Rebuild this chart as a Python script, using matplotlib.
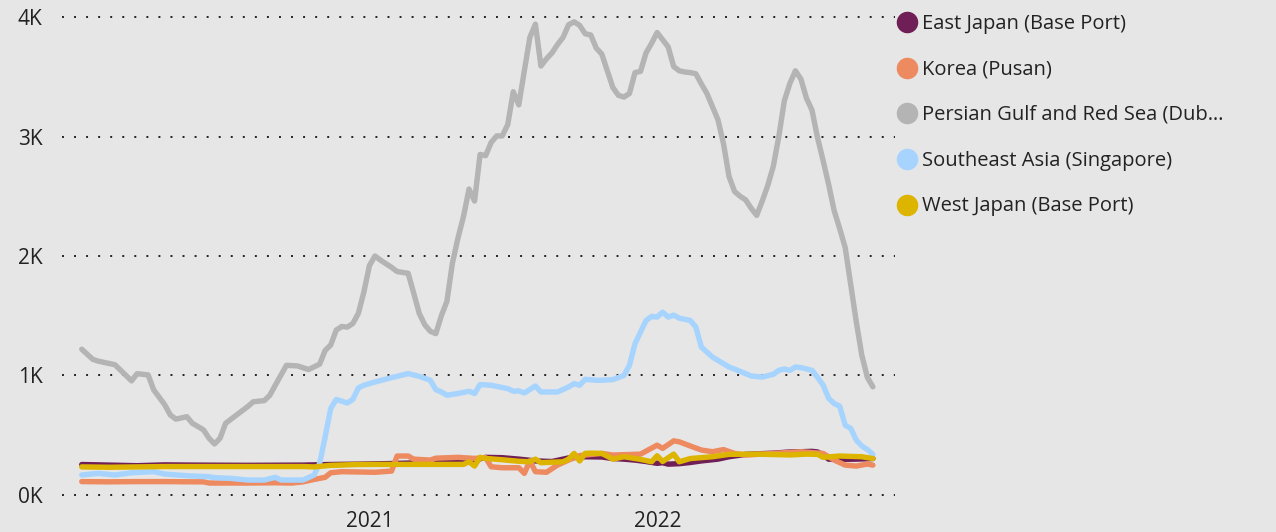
import numpy as np
import pandas as pd
import matplotlib
matplotlib.use("Agg")
import matplotlib.pyplot as plt
from matplotlib.lines import Line2D
from matplotlib.ticker import FuncFormatter

plt.rcParams['font.family'] = ['Open Sans', 'DejaVu Sans']

# weekly series, week number counted from 2020-01-03
start = pd.Timestamp('2020-01-03')

ej_wk = [0, 5, 10, 15, 20, 30, 40, 45, 50, 55, 60, 66, 71, 73, 76, 79, 82, 85, 88, 91,
         94, 96, 98, 100, 102, 104, 105, 106, 108, 110, 112, 115, 117, 120, 125, 128, 130, 132, 133, 134,
         135, 137, 140, 143]
ej_val = [255, 250, 245, 252, 250, 248, 250, 255, 258, 262, 268, 275, 290, 315, 312, 300, 285, 280, 310, 320,
          318, 305, 300, 292, 280, 265, 270, 258, 262, 272, 285, 300, 320, 340, 350, 360, 362, 365, 360, 335,
          300, 298, 300, 305]

ko_wk = [0, 5, 10, 15, 20, 22, 23, 30, 35, 38, 40, 42, 44, 45, 47, 53, 56, 57, 59, 60,
         63, 64, 68, 71, 73, 74, 76, 79, 80, 81, 82, 84, 86, 88, 90, 94, 96, 101, 104, 105,
         107, 108, 110, 112, 114, 116, 118, 120, 130, 134, 136, 138, 140, 142, 143]
ko_val = [112, 110, 112, 112, 110, 110, 100, 100, 102, 100, 110, 130, 148, 186, 195, 190, 200, 326, 326, 300,
          292, 308, 315, 306, 312, 236, 228, 228, 181, 286, 195, 190, 250, 292, 330, 348, 334, 342, 417, 390,
          453, 445, 410, 376, 362, 380, 348, 334, 362, 348, 292, 250, 242, 259, 250]

gulf_wk = [0, 2, 3, 6, 8, 9, 10, 12, 13, 15, 16, 17, 19, 20, 22, 23, 24, 25, 26, 28,
           30, 31, 33, 34, 35, 37, 39, 41, 43, 44, 45, 46, 47, 48, 49, 50, 51, 52, 53, 54,
           56, 57, 59, 60, 61, 62, 63, 64, 65, 66] + list(range(67, 144))
gulf_val = [1220, 1135, 1120, 1090, 1000, 955, 1015, 1005, 880, 755,
            670, 635, 655, 600, 545, 475, 427, 475, 600, 670,
            740, 780, 790, 835, 920, 1085, 1080, 1050, 1095, 1210,
            1255, 1380, 1410, 1405, 1435, 1520, 1700, 1920, 2000, 1965,
            1905, 1870, 1855, 1690, 1520, 1425, 1370, 1350, 1500, 1620,
            1940, 2150, 2330, 2560, 2460, 2850, 2840, 2950, 3005, 3005,
            3100, 3375, 3265, 3550, 3830, 3940, 3590, 3650, 3700, 3770,
            3830, 3935, 3960, 3930, 3860, 3850, 3740, 3690, 3550, 3410,
            3345, 3330, 3360, 3535, 3545, 3700, 3780, 3870, 3810, 3750,
            3585, 3550, 3540, 3535, 3525, 3440, 3360, 3250, 3140, 2940,
            2665, 2540, 2500, 2470, 2400, 2340, 2460, 2590, 2750, 3000,
            3300, 3445, 3550, 3480, 3320, 3220, 2990, 2800, 2600, 2380,
            2230, 2070, 1760, 1450, 1170, 985, 905]

sea_wk = [0, 3, 6, 9, 13, 15, 19, 23, 24, 27, 30, 33, 35, 36, 40, 42, 43, 44, 45, 46,
          48, 49, 50, 51, 53, 56, 57, 59, 61, 63, 64, 65, 66, 68, 70, 71, 72, 74, 77, 78,
          79, 80, 82, 83, 86, 88, 89, 90, 91, 93, 94, 96, 98, 99, 100, 102, 103, 104, 105, 106,
          107, 108, 110, 111, 112, 114, 116, 117, 119, 121, 123, 125, 126, 127, 128, 129, 130, 131, 132, 133,
          134, 135, 136, 137, 138, 139, 140, 141, 142, 143]
sea_val = [167, 181, 167, 186, 195, 175, 161, 153, 145, 139, 125, 125, 148, 125, 125, 167, 264, 487, 724, 799,
           770, 800, 896, 918, 946, 982, 993, 1016, 993, 960, 882, 862, 835, 849, 868, 849, 924, 918, 890, 868,
           871, 854, 912, 862, 862, 904, 932, 918, 968, 960, 960, 966, 1000, 1085, 1266, 1460, 1494, 1489, 1530, 1489,
           1505, 1480, 1460, 1405, 1238, 1154, 1099, 1071, 1035, 996, 987, 1010, 1043, 1054, 1043, 1071, 1066, 1055, 1043, 985,
           920, 810, 765, 743, 584, 557, 459, 410, 380, 340]

wj_wk = [0, 5, 10, 15, 20, 25, 30, 35, 40, 42, 45, 50, 55, 60, 65, 69, 70, 71, 72, 73,
         76, 79, 81, 82, 83, 87, 88, 89, 90, 91, 92, 94, 96, 98, 101, 103, 104, 105, 107, 108,
         110, 114, 117, 122, 128, 131, 133, 134, 137, 141, 143]
wj_val = [235, 232, 235, 238, 238, 238, 238, 238, 238, 235, 248, 255, 256, 256, 256, 256, 278, 242, 315, 306,
          295, 282, 278, 300, 270, 278, 300, 348, 285, 348, 350, 348, 300, 320, 298, 278, 328, 280, 342, 278,
          305, 320, 340, 342, 335, 342, 340, 315, 326, 320, 305]

names = ["East Japan (Base Port)", "Korea (Pusan)", "Persian Gulf and Red Sea (Dub\u2026",
         "Southeast Asia (Singapore)", "West Japan (Base Port)"]
colors = ['#6F1F55', '#EE8A5F', '#B4B4B4', '#A6D4FF', '#DDB400']
series = [(ej_wk, ej_val), (ko_wk, ko_val), (gulf_wk, gulf_val), (sea_wk, sea_val), (wj_wk, wj_val)]


def to_dates(weeks):
    return start + pd.to_timedelta(np.array(weeks) * 7, unit='D')


bg = '#E6E6E6'
fig = plt.figure(figsize=(12.76, 5.32), dpi=100, facecolor=bg)
ax = fig.add_axes([62 / 1276, 1 - 500 / 532, (895 - 62) / 1276, 488 / 532])
ax.set_facecolor(bg)

for (wk, val), c in zip(series, colors):
    ax.plot(to_dates(wk), val, color=c, lw=3.9, solid_joinstyle='round', solid_capstyle='round')

ax.set_ylim(-42, 4042)
ax.set_yticks([0, 1000, 2000, 3000, 4000])
ax.yaxis.set_major_formatter(FuncFormatter(lambda v, p: f"{int(v / 1000)}K"))
ax.set_xlim(pd.Timestamp('2019-12-09'), pd.Timestamp('2022-10-28'))
ax.set_xticks([pd.Timestamp('2021-01-01'), pd.Timestamp('2022-01-01')])
ax.set_xticklabels(['2021', '2022'])
ax.yaxis.grid(True, color='#222222', linestyle=(0, (1, 5.2)), linewidth=1.4)
ax.set_axisbelow(True)
for s in ax.spines.values():
    s.set_visible(False)
ax.tick_params(axis='y', length=0, pad=14, labelsize=15, labelcolor='#222222')
ax.tick_params(axis='x', length=0, pad=8, labelsize=15, labelcolor='#222222')

# legend on the right
for i, (n, c) in enumerate(zip(names, colors)):
    y = 1 - (22 + 45.7 * i) / 532
    fig.add_artist(Line2D([907 / 1276], [y], marker='o', markersize=14.5, color=c,
                          linestyle='', transform=fig.transFigure))
    fig.text(922 / 1276, y - 1.5 / 532, n, va='center', ha='left', fontsize=14.5, color='#222222')

fig.savefig('out.png', dpi=100, facecolor=bg)
